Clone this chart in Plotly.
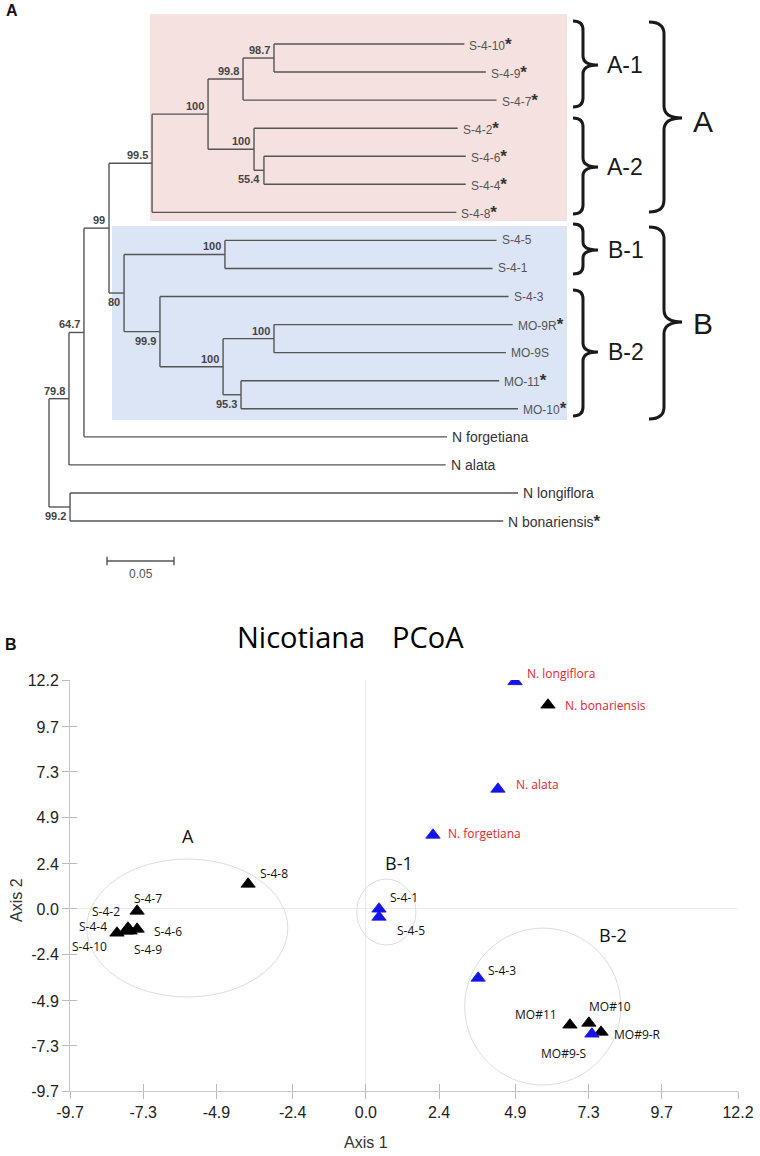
import plotly.graph_objects as go

W, H = 760, 1156

# ---------------- Panel A data : tree ----------------
LEAVES = ["S-4-10", "S-4-9", "S-4-7", "S-4-2", "S-4-6", "S-4-4", "S-4-8",
          "S-4-5", "S-4-1", "S-4-3", "MO-9R", "MO-9S", "MO-11", "MO-10",
          "N forgetiana", "N alata", "N longiflora", "N bonariensis"]
LEAF_DEPTH = [0.310, 0.326, 0.334, 0.305, 0.311, 0.311, 0.304,
              0.334, 0.331, 0.343, 0.346, 0.341, 0.336, 0.350,
              0.297, 0.296, 0.350, 0.339]
LEAF_STAR = [1, 1, 1, 1, 1, 1, 1, 0, 0, 0, 1, 0, 1, 1, 0, 0, 0, 1]

NODE_IDS = ["n1", "n2", "n3", "n4", "n5", "n6", "n7", "n8", "n9", "n10",
            "n11", "n12", "n13", "n14", "n15", "n16", "root"]
NODE_CHILDREN = [("S-4-10", "S-4-9"), ("n1", "S-4-7"), ("S-4-6", "S-4-4"),
                 ("S-4-2", "n3"), ("n2", "n4"), ("n5", "S-4-8"),
                 ("S-4-5", "S-4-1"), ("MO-9R", "MO-9S"), ("MO-11", "MO-10"),
                 ("n8", "n9"), ("S-4-3", "n10"), ("n7", "n11"), ("n6", "n12"),
                 ("n13", "N forgetiana"), ("n14", "N alata"),
                 ("N longiflora", "N bonariensis"), ("n15", "n16")]
NODE_DEPTH = [0.1679, 0.1448, 0.1604, 0.1530, 0.1187, 0.0769, 0.1313, 0.1679,
              0.1433, 0.1299, 0.0828, 0.0560, 0.0448, 0.0261, 0.0149, 0.0157, 0.0]
NODE_SUPPORT = ["98.7", "99.8", "55.4", "100", "100", "99.5", "100", "100",
                "95.3", "100", "99.9", "80", "99", "64.7", "79.8", "99.2", ""]
SUPPORT_SIDE = ["above", "above", "below", "above", "above", "above", "above",
                "above", "below", "above", "below", "below", "above", "above",
                "above", "below", ""]
SCALE_BAR = 0.05
SCALE_LABEL = "0.05"

# ---------------- Panel B data : PCoA ----------------
PCOA_NAMES = ["N. longiflora", "N. bonariensis", "N. alata", "N. forgetiana",
              "S-4-8", "S-4-7", "S-4-2", "S-4-4", "S-4-10", "S-4-9", "S-4-6",
              "S-4-1", "S-4-5", "S-4-3", "MO#11", "MO#10", "MO#9-R", "MO#9-S"]
AXIS1 = [4.89, 5.97, 4.33, 2.20, -3.86, -7.50, -7.80, -7.86, -8.16, -7.73,
         -7.50, 0.43, 0.43, 3.68, 6.69, 7.31, 7.71, 7.41]
AXIS2 = [12.12, 10.87, 6.39, 3.94, 1.33, -0.11, -1.01, -1.17, -1.28, -1.17,
         -1.07, 0.00, -0.43, -3.68, -6.18, -6.08, -6.56, -6.66]
PCOA_CLASS = ["blue", "black", "blue", "blue", "black", "black", "black",
              "black", "black", "black", "black", "blue", "blue", "blue",
              "black", "black", "black", "blue"]
TICK_LABELS = ["-9.7", "-7.3", "-4.9", "-2.4", "0.0", "2.4", "4.9", "7.3",
               "9.7", "12.2"]
GROUP_NAMES = ["A", "B-1", "B-2"]
GROUP_LABEL_X = [-5.82, 1.07, 8.09]
GROUP_LABEL_Y = [3.89, 2.45, -1.39]
GROUP_X0 = [-9.15, -0.30, 3.24]
GROUP_X1 = [-2.56, 1.64, 8.36]
GROUP_Y0 = [-4.69, -1.92, -9.38]
GROUP_Y1 = [2.66, 1.59, -1.02]

# ---------------- styles ----------------
TREE_FONT = "Liberation Sans, Arial, sans-serif"
PCOA_FONT = "Open Sans, sans-serif"
LINE_C = "#555555"
# label offsets (px): dx, dy (down positive), anchor
LABEL_OFFSET = {
    "N. longiflora": (10, -8, "left"), "N. bonariensis": (15, 1, "left"),
    "N. alata": (16, -5, "left"), "N. forgetiana": (13, -2, "left"),
    "S-4-8": (10, -11, "left"), "S-4-7": (-5, -13, "left"),
    "S-4-2": (-6, -16, "right"), "S-4-4": (-17, -4, "right"),
    "S-4-10": (-8, 14, "right"), "S-4-9": (2, 19, "left"),
    "S-4-6": (15, 2, "left"), "S-4-1": (9, -11, "left"),
    "S-4-5": (16, 13, "left"), "S-4-3": (8, -8, "left"),
    "MO#11": (-11, -10, "right"), "MO#10": (-2, -17, "left"),
    "MO#9-R": (11, 2, "left"), "MO#9-S": (-4, 20, "right"),
}

# tree pixel mapping (axis ranges chosen so the tree fills the top panel)
PX_PER_UNIT = 1340.0
X_ORIGIN = 49.0
LEAF_TOP, LEAF_STEP = 44.0, 28.06

fig = go.Figure()

# ---- build tree geometry from data ----
pos = {}
for i, name in enumerate(LEAVES):
    pos[name] = (LEAF_DEPTH[i], float(i))
for nid, ch, d in zip(NODE_IDS, NODE_CHILDREN, NODE_DEPTH):
    ys = [pos[c][1] for c in ch]
    pos[nid] = (d, sum(ys) / len(ys))

sx, sy = [], []
for nid, ch in zip(NODE_IDS, NODE_CHILDREN):
    d, _ = pos[nid]
    ys = [pos[c][1] for c in ch]
    sx += [d, d, None]
    sy += [min(ys), max(ys), None]
    for c in ch:
        cd, cy = pos[c]
        sx += [d, cd, None]
        sy += [cy, cy, None]

fig.add_trace(go.Scatter(x=sx, y=sy, mode="lines", xaxis="x", yaxis="y",
                         line=dict(color=LINE_C, width=1.4), hoverinfo="skip"))

# scale bar
sb_x0 = (107 - X_ORIGIN) / PX_PER_UNIT
sb_y = (561 - LEAF_TOP) / LEAF_STEP
fig.add_trace(go.Scatter(
    x=[sb_x0, sb_x0 + SCALE_BAR, None, sb_x0, sb_x0, None, sb_x0 + SCALE_BAR, sb_x0 + SCALE_BAR],
    y=[sb_y, sb_y, None, sb_y - 0.15, sb_y + 0.15, None, sb_y - 0.15, sb_y + 0.15],
    mode="lines", xaxis="x", yaxis="y", line=dict(color=LINE_C, width=1.4),
    hoverinfo="skip"))

ann = []
ann.append(dict(x=sb_x0 + SCALE_BAR / 2, y=sb_y + 0.45, xref="x", yref="y",
                text=SCALE_LABEL, showarrow=False, xanchor="center", yanchor="middle",
                font=dict(family=TREE_FONT, size=12, color="#555")))

for i, name in enumerate(LEAVES):
    d, y = pos[name]
    isN = name.startswith("N ")
    txt = name
    if LEAF_STAR[i]:
        txt += "<span style='font-size:17px;color:#333'><b>*</b></span>"
    ann.append(dict(x=d, y=y, xref="x", yref="y", text=txt, showarrow=False,
                    xanchor="left", yanchor="middle", xshift=3,
                    font=dict(family=TREE_FONT, size=14 if isN else 12,
                              color="#333" if isN else "#555")))

for nid, sup, side in zip(NODE_IDS, NODE_SUPPORT, SUPPORT_SIDE):
    if not sup:
        continue
    d, y = pos[nid]
    ann.append(dict(x=d, y=y, xref="x", yref="y", text="<b>%s</b>" % sup,
                    showarrow=False, xanchor="right", yanchor="middle",
                    xshift=-2, yshift=8 if side == "above" else -9,
                    font=dict(family=TREE_FONT, size=11, color="#444")))

shapes = []
# clade shading
shapes.append(dict(type="rect", xref="x", yref="y", layer="below",
                   x0=(150 - X_ORIGIN) / PX_PER_UNIT, x1=(567 - X_ORIGIN) / PX_PER_UNIT,
                   y0=-1.07, y1=6.31, fillcolor="#f5e1df", line=dict(width=0)))
shapes.append(dict(type="rect", xref="x", yref="y", layer="below",
                   x0=(112 - X_ORIGIN) / PX_PER_UNIT, x1=(567 - X_ORIGIN) / PX_PER_UNIT,
                   y0=6.49, y1=13.40, fillcolor="#dbe5f5", line=dict(width=0)))


def P(px, py):
    return "%.5f,%.5f" % (px / W, 1 - py / H)


def brace(xv, y0, y1, ym, hook, tip, r):
    x0 = xv - hook
    x1 = xv + tip
    return ("M" + P(x0, y0) + " Q" + P(xv, y0) + " " + P(xv, y0 + r) +
            " L" + P(xv, ym - r) + " Q" + P(xv, ym) + " " + P(x1, ym) +
            " Q" + P(xv, ym) + " " + P(xv, ym + r) +
            " L" + P(xv, y1 - r) + " Q" + P(xv, y1) + " " + P(x0, y1))


BRACES = [(583, 21, 107, 65, 10, 15, 9), (583, 118, 214, 167, 10, 15, 9),
          (583, 224, 274, 250, 10, 15, 8), (583, 290, 416, 352, 10, 15, 9),
          (664, 22, 212, 118, 15, 18, 12), (664, 227, 419, 322, 15, 18, 12)]
for b in BRACES:
    shapes.append(dict(type="path", xref="paper", yref="paper", path=brace(*b),
                       line=dict(color="#1a1a1a", width=3)))

BRACE_TEXT = [("A-1", 605, 65, 23), ("A-2", 605, 167, 23), ("B-1", 606, 250, 23),
              ("B-2", 606, 352, 23), ("A", 691, 121, 30), ("B", 691, 323, 30)]
for t, px, py, s in BRACE_TEXT:
    ann.append(dict(x=px / W, y=1 - py / H, xref="paper", yref="paper", text=t,
                    showarrow=False, xanchor="left", yanchor="middle",
                    font=dict(family=TREE_FONT, size=s, color="#1a1a1a")))

# panel letters
ann.append(dict(x=12 / W, y=1 - 10 / H, xref="paper", yref="paper", text="<b>A</b>",
                showarrow=False, xanchor="center", yanchor="middle",
                font=dict(family=TREE_FONT, size=16, color="#111")))
ann.append(dict(x=11 / W, y=1 - 644 / H, xref="paper", yref="paper", text="<b>B</b>",
                showarrow=False, xanchor="center", yanchor="middle",
                font=dict(family=TREE_FONT, size=16, color="#111")))

# ---------------- Panel B ----------------
COLORS = {"blue": "#1414e6", "black": "#000000"}
for cls in ["black", "blue"]:
    idx = [i for i, c in enumerate(PCOA_CLASS) if c == cls]
    fig.add_trace(go.Scatter(
        x=[AXIS1[i] for i in idx], y=[AXIS2[i] for i in idx], mode="markers",
        xaxis="x2", yaxis="y2",
        marker=dict(symbol="triangle-up", size=12.5, color=COLORS[cls],
                    line=dict(width=0.8, color=COLORS[cls])),
        text=[PCOA_NAMES[i] for i in idx], hoverinfo="text"))

for i, name in enumerate(PCOA_NAMES):
    dx, dy, anc = LABEL_OFFSET[name]
    red = name.startswith("N.")
    ann.append(dict(x=AXIS1[i], y=AXIS2[i], xref="x2", yref="y2", text=name,
                    showarrow=False, xanchor=anc, yanchor="middle",
                    xshift=dx, yshift=-dy,
                    font=dict(family=PCOA_FONT, size=12,
                              color="#e5232b" if red else "#111")))

for i, g in enumerate(GROUP_NAMES):
    shapes.append(dict(type="circle", xref="x2", yref="y2", layer="below",
                       x0=GROUP_X0[i], x1=GROUP_X1[i], y0=GROUP_Y0[i], y1=GROUP_Y1[i],
                       line=dict(color="#dddddd", width=1)))
    ann.append(dict(x=GROUP_LABEL_X[i], y=GROUP_LABEL_Y[i], xref="x2", yref="y2",
                    text=g, showarrow=False, xanchor="center", yanchor="middle",
                    font=dict(family=PCOA_FONT, size=18, color="#111")))

ann.append(dict(x=301 / W, y=1 - 637 / H, xref="paper", yref="paper", text="Nicotiana",
                showarrow=False, xanchor="center", yanchor="middle",
                font=dict(family=PCOA_FONT, size=29, color="#000")))
ann.append(dict(x=428 / W, y=1 - 637 / H, xref="paper", yref="paper", text="PCoA",
                showarrow=False, xanchor="center", yanchor="middle",
                font=dict(family=PCOA_FONT, size=29, color="#000")))
ann.append(dict(x=366 / W, y=1 - 1142 / H, xref="paper", yref="paper", text="Axis 1",
                showarrow=False, xanchor="center", yanchor="middle",
                font=dict(family=TREE_FONT, size=16, color="#333")))
ann.append(dict(x=16 / W, y=1 - 900 / H, xref="paper", yref="paper", text="Axis 2",
                showarrow=False, textangle=-90, xanchor="center", yanchor="middle",
                font=dict(family=TREE_FONT, size=16, color="#333")))

# dummy traces for the overlay tick axes
fig.add_trace(go.Scatter(x=[None], y=[None], xaxis="x3", yaxis="y2", hoverinfo="skip"))
fig.add_trace(go.Scatter(x=[None], y=[None], xaxis="x2", yaxis="y3", hoverinfo="skip"))

tickvals = [float(t) for t in TICK_LABELS]
RNG = [tickvals[0], tickvals[-1]]
xdom = [70 / W, 738 / W]
ydom = [1 - 1091 / H, 1 - 680 / H]
tickfont = dict(family=TREE_FONT, size=16, color="#222")
common = dict(range=RNG, tickvals=tickvals, ticktext=TICK_LABELS, ticks="outside",
              ticklen=7, tickcolor="#bbbbbb", tickwidth=1, showline=True,
              linecolor="#c8c8c8", linewidth=1, showgrid=False, zeroline=True,
              zerolinecolor="#ebebeb", zerolinewidth=1, tickfont=tickfont,
              fixedrange=True, automargin=False)
overlay = dict(range=RNG, tickvals=tickvals, ticks="inside", ticklen=7,
               tickcolor="#bbbbbb", tickwidth=1, showline=False, showgrid=False,
               zeroline=False, showticklabels=False, fixedrange=True,
               automargin=False)

fig.update_layout(
    width=W, height=H, margin=dict(l=0, r=0, t=0, b=0, pad=0, autoexpand=False),
    paper_bgcolor="white", plot_bgcolor="rgba(0,0,0,0)", showlegend=False,
    xaxis=dict(domain=[0, 1], range=[-X_ORIGIN / PX_PER_UNIT, (W - X_ORIGIN) / PX_PER_UNIT],
               visible=False, fixedrange=True, automargin=False),
    yaxis=dict(domain=[0, 1], range=[(H - LEAF_TOP) / LEAF_STEP, -LEAF_TOP / LEAF_STEP],
               visible=False, fixedrange=True, automargin=False),
    xaxis2=dict(domain=xdom, anchor="y2", **common),
    yaxis2=dict(domain=ydom, anchor="x2", **common),
    xaxis3=dict(overlaying="x2", anchor="y2", **overlay),
    yaxis3=dict(overlaying="y2", anchor="x2", **overlay),
    shapes=shapes, annotations=ann,
)

fig.write_html("out.html", config={"displayModeBar": False},
               post_script="document.body.style.margin='0';"
                           "document.body.style.overflow='hidden';")
